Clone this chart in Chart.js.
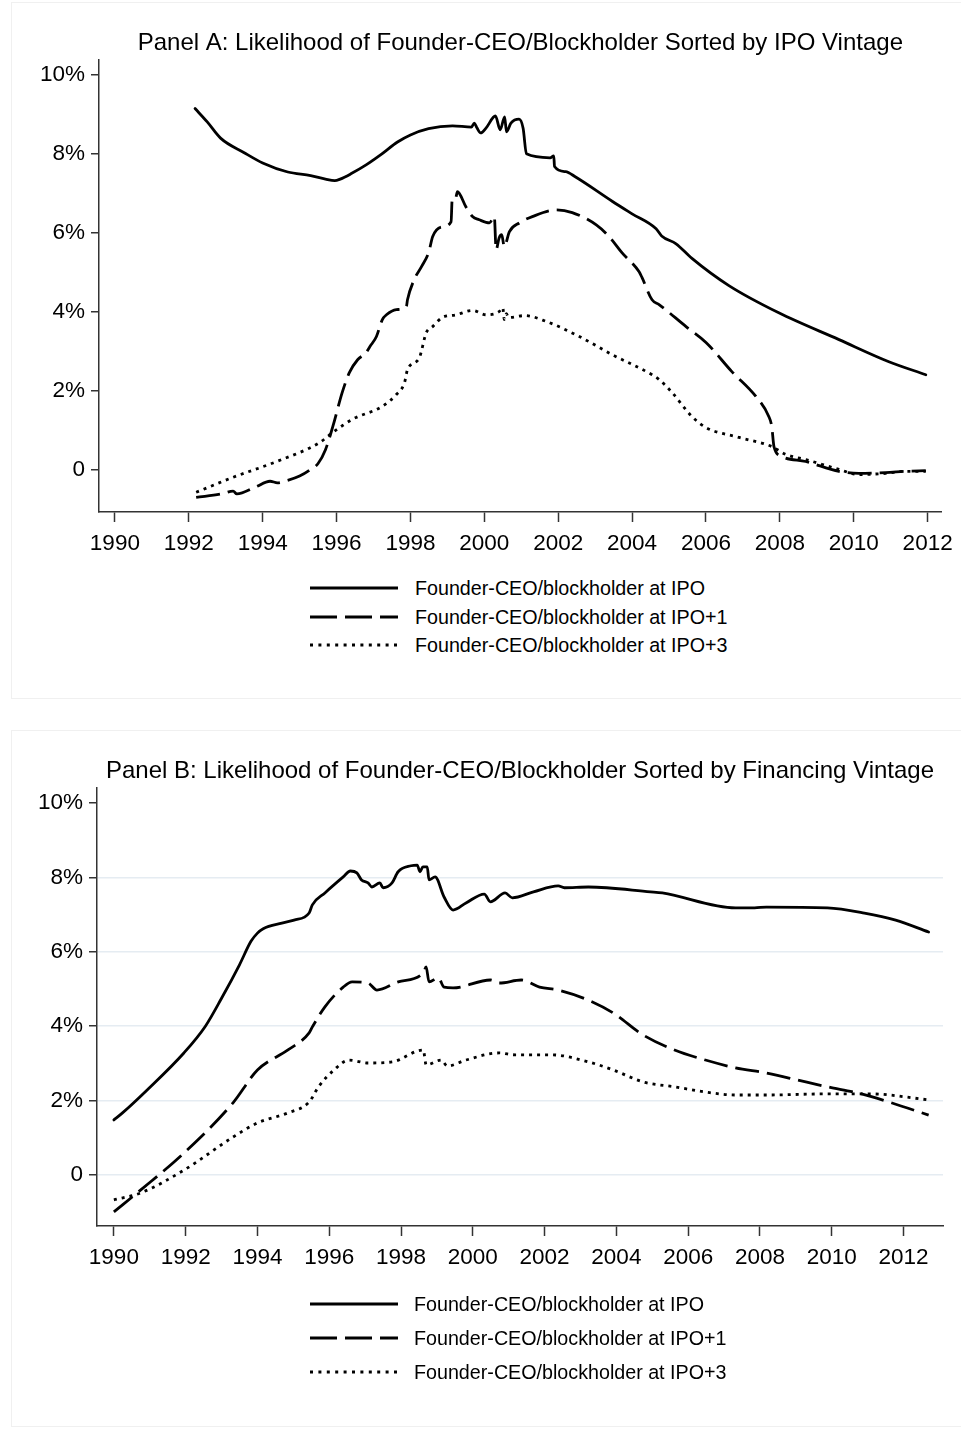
<!DOCTYPE html>
<html>
<head>
<meta charset="utf-8">
<script src="https://cdn.jsdelivr.net/npm/chart.js@4"></script>
<style>
  html, body { margin: 0; padding: 0; background: #fff; }
  body { width: 961px; height: 1437px; position: relative; overflow: hidden; font-family: "Liberation Sans", Arial, sans-serif; }
  .frame { position: absolute; border: 1px solid #f0f0f0; box-sizing: border-box; }
  .wrap { position: absolute; left: 0; width: 961px; }
  .legend { position: absolute; left: 0; width: 961px; }
  .row { position: absolute; left: 0; height: 30px; width: 961px; }
  .row svg { position: absolute; left: 310px; top: 0; }
  .row span { position: absolute; font-size: 19.7px; color: #000; white-space: nowrap; line-height: 30px; top: 0; }
</style>
</head>
<body>
<div class="frame" style="left:11px; top:2px; width:960px; height:697px;"></div>
<div class="frame" style="left:11px; top:730px; width:960px; height:697px;"></div>

<div class="wrap" style="top:0; height:570px;"><canvas id="cA" width="961" height="570"></canvas></div>
<div class="wrap" style="top:725px; height:565px;"><canvas id="cB" width="961" height="565"></canvas></div>

<div class="legend" id="legA"></div>
<div class="legend" id="legB"></div>

<script>
// ---------- Labels ----------
const titleA = "Panel A: Likelihood of Founder-CEO/Blockholder Sorted by IPO Vintage";
const titleB = "Panel B: Likelihood of Founder-CEO/Blockholder Sorted by Financing Vintage";
const seriesNames = ["Founder-CEO/blockholder at IPO", "Founder-CEO/blockholder at IPO+1", "Founder-CEO/blockholder at IPO+3"];
const xTicks = [1990, 1992, 1994, 1996, 1998, 2000, 2002, 2004, 2006, 2008, 2010, 2012];
const yTicks = [0, 2, 4, 6, 8, 10];
const yTickLabels = ["0", "2%", "4%", "6%", "8%", "10%"];

// ---------- Panel A data (year, percent) ----------
const aIpoX = [1992.17,1992.5,1992.86,1993.5,1994.0,1994.68,1995.3,1995.7,1995.95,1996.1,1996.4,1996.8,1997.2,1997.65,1998.0,1998.49,1999.14,1999.65,1999.73,1999.8,1999.9,2000.05,2000.3,2000.43,2000.55,2000.6,2000.72,2000.94,2001.05,2001.14,2001.78,2001.88,2001.9,2002.2,2002.46,2003.46,2004.0,2004.65,2004.8,2005.19,2005.62,2006.62,2007.97,2009.6,2010.95,2011.95];
const aIpoY = [9.15,8.81,8.40,8.03,7.77,7.54,7.45,7.36,7.32,7.36,7.50,7.72,7.98,8.30,8.48,8.64,8.71,8.68,8.78,8.66,8.53,8.66,8.96,8.61,8.94,8.56,8.78,8.88,8.65,8.00,7.90,7.95,7.68,7.55,7.42,6.80,6.48,6.10,5.92,5.72,5.35,4.66,3.97,3.29,2.73,2.40];

const aIpo1X = [1992.2,1992.9,1993.2,1993.3,1993.8,1994.2,1994.4,1994.6,1995.0,1995.3,1995.5,1995.7,1995.9,1996.15,1996.35,1996.57,1996.8,1996.9,1997.08,1997.24,1997.35,1997.62,1997.89,1997.92,1998.1,1998.3,1998.5,1998.6,1998.86,1999.1,1999.13,1999.22,1999.27,1999.5,1999.68,1999.86,2000.14,2000.27,2000.32,2000.4,2000.47,2000.54,2000.68,2000.95,2001.3,2001.95,2002.38,2003.03,2003.38,2003.73,2004.19,2004.27,2004.54,2004.73,2005.46,2006.0,2006.7,2007.35,2007.7,2007.78,2007.84,2008.05,2008.7,2009.6,2010.14,2010.86,2011.4,2011.95];
const aIpo1Y = [-0.71,-0.62,-0.55,-0.62,-0.45,-0.30,-0.34,-0.30,-0.17,0.00,0.15,0.50,1.09,1.94,2.46,2.78,2.96,3.11,3.37,3.80,3.92,4.05,4.13,4.30,4.81,5.14,5.52,5.90,6.15,6.28,6.84,6.86,7.04,6.66,6.41,6.33,6.25,6.41,5.57,5.87,5.95,5.65,6.03,6.25,6.41,6.58,6.51,6.20,5.90,5.49,5.01,4.86,4.30,4.18,3.62,3.22,2.48,1.85,1.34,1.09,0.58,0.33,0.20,-0.05,-0.10,-0.08,-0.05,-0.03];

const aIpo3X = [1992.2,1993.2,1994.38,1995.54,1995.9,1996.43,1997.24,1997.62,1997.84,1997.92,1998.24,1998.43,1998.6,1998.86,1999.24,1999.68,2000.05,2000.4,2000.5,2000.54,2000.6,2000.65,2001.1,2001.68,2002.57,2003.46,2004.54,2004.73,2005.08,2005.62,2006.0,2006.9,2007.78,2008.16,2008.7,2009.6,2010.14,2010.86,2011.4,2011.95];
const aIpo3Y = [-0.58,-0.20,0.20,0.68,0.94,1.27,1.60,1.90,2.20,2.53,2.83,3.47,3.62,3.85,3.92,4.03,3.92,4.00,4.10,3.80,3.95,3.85,3.90,3.75,3.37,2.91,2.40,2.28,1.95,1.34,1.06,0.81,0.58,0.38,0.25,0.00,-0.13,-0.10,-0.05,-0.05];

// ---------- Panel B data (year, percent) ----------
const bIpoX = [1990.0,1990.24,1990.92,1991.95,1992.55,1993.0,1993.5,1993.82,1994.0,1994.16,1994.68,1995.02,1995.44,1995.53,1995.88,1996.39,1996.59,1996.77,1996.9,1997.08,1997.19,1997.41,1997.5,1997.75,1997.92,1998.28,1998.45,1998.53,1998.61,1998.73,1998.78,1998.95,1999.2,1999.45,1999.81,2000.32,2000.49,2000.9,2001.1,2001.69,2002.38,2002.55,2003.22,2004.95,2005.28,2007.32,2007.85,2008.18,2009.88,2010.91,2011.78,2012.7];
const bIpoY = [1.48,1.67,2.28,3.28,4.00,4.75,5.65,6.28,6.50,6.62,6.77,6.85,7.04,7.26,7.58,8.01,8.17,8.12,7.93,7.85,7.74,7.85,7.72,7.85,8.15,8.31,8.33,8.15,8.28,8.28,7.93,8.01,7.47,7.12,7.31,7.55,7.34,7.58,7.45,7.61,7.77,7.72,7.74,7.61,7.58,7.18,7.18,7.20,7.18,7.04,6.85,6.53];

const bIpo1X = [1990.0,1990.75,1991.95,1993.32,1994.0,1994.85,1995.44,1995.53,1995.88,1996.39,1996.64,1997.08,1997.33,1997.92,1998.62,1998.7,1998.78,1999.04,1999.2,1999.45,2000.49,2000.74,2001.35,2001.86,2002.38,2003.22,2003.92,2004.75,2005.62,2006.48,2007.32,2008.18,2009.05,2009.88,2010.75,2011.6,2012.7];
const bIpo1Y = [-0.99,-0.40,0.59,1.94,2.82,3.36,3.82,3.98,4.52,5.05,5.19,5.16,4.97,5.19,5.43,5.59,5.19,5.30,5.05,5.03,5.24,5.16,5.24,5.05,4.97,4.70,4.35,3.76,3.36,3.09,2.88,2.74,2.55,2.37,2.20,1.96,1.61];

const bIpo3X = [1990.0,1990.75,1991.95,1993.32,1994.0,1994.85,1995.44,1995.7,1996.13,1996.55,1997.08,1997.75,1998.62,1998.7,1999.12,1999.29,1999.81,2000.74,2001.18,2002.19,2003.22,2003.92,2004.75,2005.62,2006.48,2007.32,2008.18,2009.88,2011.08,2012.7];
const bIpo3Y = [-0.67,-0.48,0.13,1.02,1.40,1.67,1.96,2.37,2.82,3.09,3.01,3.04,3.36,2.96,3.09,2.93,3.09,3.28,3.23,3.23,3.04,2.82,2.50,2.37,2.23,2.15,2.15,2.18,2.18,2.02];

// ---------- Styles ----------
const FONT = "'Liberation Sans', Arial, sans-serif";
const AXIS = '#333333';
const styles = [
  { borderDash: [], borderCapStyle: 'round', borderWidth: 2.8 },
  { borderDash: [24, 8], borderCapStyle: 'butt', borderWidth: 2.8 },
  { borderDash: [3, 5], borderCapStyle: 'butt', borderWidth: 2.8 }
];

function pts(xs, ys) { return xs.map((x, i) => ({ x: x, y: ys[i] })); }

function makeChart(id, cfg) {
  const datasets = cfg.series.map((s, i) => Object.assign({
    label: seriesNames[i],
    data: pts(s[0], s[1]),
    borderColor: '#000',
    backgroundColor: '#000',
    pointRadius: 0,
    cubicInterpolationMode: 'monotone',
    borderJoinStyle: 'round',
    fill: false
  }, styles[i]));
  return new Chart(document.getElementById(id), {
    type: 'line',
    data: { datasets },
    options: {
      responsive: false,
      animation: false,
      events: [],
      layout: { padding: { left: 0, right: 961 - cfg.right, top: 0, bottom: 0 } },
      plugins: {
        legend: { display: false },
        tooltip: { enabled: false },
        title: {
          display: true, text: cfg.title, fullSize: false, color: '#000',
          font: { family: FONT, size: 24, weight: 'normal', lineHeight: 1.2 },
          padding: { top: cfg.titleTop, bottom: cfg.titleBottom }
        }
      },
      scales: {
        x: {
          type: 'linear', min: cfg.xmin, max: cfg.xmax,
          afterBuildTicks: s => { s.ticks = xTicks.map(v => ({ value: v })); },
          afterFit: s => { s.height = cfg.xh; },
          ticks: { color: '#000', font: { family: FONT, size: 22.5 }, padding: 8, maxRotation: 0, autoSkip: false,
                   callback: v => String(v) },
          grid: { display: true, drawOnChartArea: false, drawTicks: true, tickLength: 10, tickColor: AXIS, tickWidth: 1.5 },
          border: { display: true, color: AXIS, width: 1.5 }
        },
        y: {
          type: 'linear', min: cfg.ymin, max: cfg.ymax,
          afterBuildTicks: s => { s.ticks = yTicks.map(v => ({ value: v })); },
          afterFit: s => { s.width = cfg.yw; },
          ticks: { color: '#000', font: { family: FONT, size: 22.5 }, padding: 6, autoSkip: false,
                   callback: v => yTickLabels[yTicks.indexOf(v)] },
          grid: {
            display: true, drawOnChartArea: cfg.grid, drawTicks: true, tickLength: 8,
            tickColor: AXIS, tickWidth: 1.5, lineWidth: 1.5,
            color: c => (c.tick && c.tick.value === 10) ? 'rgba(0,0,0,0)' : '#e5ecf2'
          },
          border: { display: true, color: AXIS, width: 1.5 }
        }
      }
    }
  });
}

makeChart('cA', {
  title: titleA, titleTop: 28.6, titleBottom: 2.6,
  series: [[aIpoX, aIpoY], [aIpo1X, aIpo1Y], [aIpo3X, aIpo3Y]],
  xmin: 1989.57, xmax: 2012.38, ymin: -1.08, ymax: 10.38,
  yw: 99, xh: 58, right: 943, grid: false
});
makeChart('cB', {
  title: titleB, titleTop: 31.6, titleBottom: 2.6,
  series: [[bIpoX, bIpoY], [bIpo1X, bIpo1Y], [bIpo3X, bIpo3Y]],
  xmin: 1989.53, xmax: 2013.1, ymin: -1.37, ymax: 10.4,
  yw: 97, xh: 64, right: 943, grid: true
});

// ---------- Legends (HTML) ----------
function buildLegend(id, rowsY, textX) {
  const el = document.getElementById(id);
  seriesNames.forEach((name, i) => {
    const row = document.createElement('div');
    row.className = 'row';
    row.style.top = (rowsY[i] - 15) + 'px';
    const dash = i === 0 ? '' : (i === 1 ? 'stroke-dasharray="27 8"' : 'stroke-dasharray="3 5.4"');
    row.innerHTML = '<svg width="90" height="30"><line x1="0" y1="15" x2="88" y2="15" stroke="#000" stroke-width="3" ' + dash + '/></svg>' +
      '<span style="left:' + textX + 'px">' + name + '</span>';
    el.appendChild(row);
  });
}
buildLegend('legA', [588, 617, 645], 415);
buildLegend('legB', [1304, 1338, 1372], 414);
</script>
</body>
</html>
